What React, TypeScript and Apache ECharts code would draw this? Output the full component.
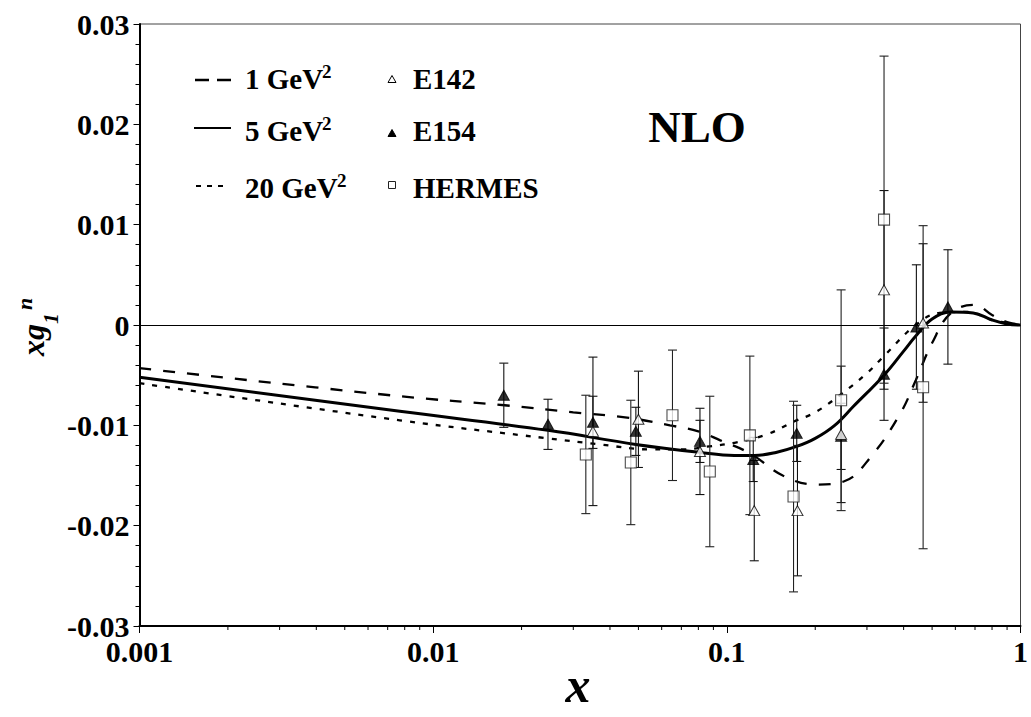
import React, { useEffect, useRef } from 'react';
import * as echarts from 'echarts';

// ---------- data ----------
// Theory curves (x, xg1n)
const q1X = [0.001, 0.0077, 0.0175, 0.03, 0.045, 0.064, 0.08, 0.095, 0.12, 0.155, 0.2, 0.25, 0.31, 0.39, 0.44, 0.5, 0.58, 0.7, 0.8, 0.9, 1.0];
const q1Y = [-0.0043, -0.0071, -0.008, -0.0087, -0.0092, -0.01, -0.0106, -0.0115, -0.0128, -0.015, -0.0159, -0.0156, -0.0131, -0.0088, -0.0055, -0.0018, 0.0012, 0.002, 0.001, 0.0003, 0.0];

const q5X = [0.001, 0.0077, 0.0246, 0.049, 0.081, 0.106, 0.124, 0.147, 0.173, 0.2, 0.233, 0.27, 0.343, 0.4, 0.44, 0.5, 0.58, 0.69, 0.8, 0.9, 1.0];
const q5Y = [-0.0052, -0.0086, -0.0105, -0.0119, -0.0127, -0.013, -0.013, -0.0127, -0.0121, -0.0113, -0.01, -0.0081, -0.005, -0.0026, -0.0011, 0.0006, 0.0013, 0.0012, 0.0005, 0.0001, 0.0];

const q20X = [0.001, 0.0077, 0.0246, 0.037, 0.055, 0.071, 0.087, 0.108, 0.137, 0.17, 0.2, 0.245, 0.3, 0.34, 0.44, 0.53, 0.66, 0.8, 1.0];
const q20Y = [-0.0058, -0.0095, -0.0113, -0.0119, -0.0124, -0.0124, -0.0121, -0.0117, -0.0109, -0.0096, -0.0087, -0.0069, -0.0048, -0.0032, 0.0, 0.0012, 0.0013, 0.0005, 0.0];

// Data sets
const e142X = [0.035, 0.05, 0.081, 0.124, 0.174, 0.245, 0.343, 0.466];
const e142Y = [-0.0106, -0.0094, -0.0126, -0.0185, -0.0185, -0.0109, 0.0035, 0.0002];
const e142Err = [0.0074, 0.0048, 0.0043, 0.005, 0.0065, 0.0068, 0.0099, 0.0079];

const e154X = [0.0174, 0.0246, 0.035, 0.049, 0.081, 0.123, 0.173, 0.245, 0.343, 0.442, 0.566];
const e154Y = [-0.007, -0.0099, -0.0097, -0.0106, -0.0116, -0.0134, -0.0108, -0.0111, -0.0049, -0.0002, 0.0018];
const e154Err = [0.0032, 0.0025, 0.0026, 0.0024, 0.0021, 0.0022, 0.0028, 0.0033, 0.0046, 0.0062, 0.0057];

const hermesX = [0.0331, 0.0471, 0.0653, 0.0875, 0.1198, 0.1687, 0.245, 0.343, 0.466];
const hermesY = [-0.0129, -0.0137, -0.009, -0.0146, -0.011, -0.0171, -0.0075, 0.0105, -0.0062];
const hermesErr = [0.0059, 0.0062, 0.0065, 0.0075, 0.0079, 0.0095, 0.011, 0.0163, 0.0161];

// Axis ticks / labels
const xTickLabels = ['0.001', '0.01', '0.1', '1'];
const xMinorTicks = [0.002, 0.003, 0.004, 0.005, 0.006, 0.007, 0.008, 0.009, 0.02, 0.03, 0.04, 0.05, 0.06, 0.07, 0.08, 0.09, 0.2, 0.3, 0.4, 0.5, 0.6, 0.7, 0.8, 0.9];
const legendCurves = ['1 GeV', '5 GeV', '20 GeV'];
const legendData = ['E142', 'E154', 'HERMES'];

const FONT = '"Liberation Serif", "Times New Roman", serif';

function zip(xs: number[], ys: number[]) {
  return xs.map((x, i) => [x, ys[i]]);
}

function errorBars(name: string, xs: number[], ys: number[], errs: number[], color: string) {
  return {
    type: 'custom',
    name,
    silent: true,
    z: 3,
    encode: { x: 0, y: [1, 2] },
    data: xs.map((x, i) => [x, ys[i] - errs[i], ys[i] + errs[i]]),
    renderItem: (params: any, api: any) => {
      const x = api.value(0);
      const lo = api.coord([x, api.value(1)]);
      const hi = api.coord([x, api.value(2)]);
      const hw = 4.5;
      const st = { stroke: color, lineWidth: 1.1 };
      return {
        type: 'group',
        children: [
          { type: 'line', shape: { x1: lo[0], y1: lo[1], x2: hi[0], y2: hi[1] }, style: st },
          { type: 'line', shape: { x1: lo[0] - hw, y1: lo[1], x2: lo[0] + hw, y2: lo[1] }, style: st },
          { type: 'line', shape: { x1: hi[0] - hw, y1: hi[1], x2: hi[0] + hw, y2: hi[1] }, style: st },
        ],
      };
    },
  };
}

export default function App() {
  const ref = useRef<HTMLDivElement>(null);

  useEffect(() => {
    if (!ref.current) return;
    const chart = echarts.init(ref.current, undefined, { renderer: 'svg' });

    const labelStyle = { fontFamily: FONT, fontWeight: 'bold', fontSize: 30, color: '#000' };

    const txt = (x: number, y: number, text: string, size: number, extra: any = {}) => ({
      type: 'text', x, y,
      style: { text, font: `bold ${size}px ${FONT}`, fill: '#000', textAlign: 'left', textVerticalAlign: 'middle', ...extra },
    });

    const option: any = {
      animation: false,
      backgroundColor: '#fff',
      grid: { left: 139.5, right: 9.5, top: 24, bottom: 91, show: true, borderColor: '#444', borderWidth: 1 },
      xAxis: {
        type: 'log',
        logBase: 10,
        min: 0.001,
        max: 1,
        axisLine: { show: true, onZero: false, lineStyle: { color: '#000', width: 2 } },
        axisTick: { show: true, length: 7, lineStyle: { color: '#000', width: 1 } },
        splitLine: { show: false },
        axisLabel: {
          ...labelStyle,
          margin: 10,
          formatter: (v: number) => xTickLabels[Math.round(Math.log10(v)) + 3],
        },
      },
      yAxis: {
        type: 'value',
        min: -0.03,
        max: 0.03,
        interval: 0.01,
        axisLine: { show: true, onZero: false, lineStyle: { color: '#000', width: 2 } },
        axisTick: { show: true, length: 6, lineStyle: { color: '#000', width: 1 } },
        minorTick: { show: true, splitNumber: 5, length: 4, lineStyle: { color: '#000', width: 1 } },
        splitLine: { show: false },
        minorSplitLine: { show: false },
        axisLabel: {
          ...labelStyle,
          margin: 10,
          formatter: (v: number) => (Math.abs(v) < 1e-9 ? '0' : v.toFixed(2)),
        },
      },
      series: [
        {
          type: 'line', name: '1 GeV2', data: zip(q1X, q1Y), smooth: 0.4, showSymbol: false, z: 2,
          lineStyle: { color: '#000', width: 2.3, type: [12, 12] },
          markLine: {
            silent: true, symbol: 'none', label: { show: false },
            lineStyle: { color: '#000', width: 1, type: 'solid' },
            data: [{ yAxis: 0 }],
          },
        },
        {
          type: 'line', name: '5 GeV2', data: zip(q5X, q5Y), smooth: 0.4, showSymbol: false, z: 2,
          lineStyle: { color: '#000', width: 3, type: 'solid' },
        },
        {
          type: 'line', name: '20 GeV2', data: zip(q20X, q20Y), smooth: 0.4, showSymbol: false, z: 2,
          lineStyle: { color: '#000', width: 2.3, type: [5, 8] },
        },
        errorBars('E154 err', e154X, e154Y, e154Err, '#111'),
        errorBars('E142 err', e142X, e142Y, e142Err, '#111'),
        errorBars('HERMES err', hermesX, hermesY, hermesErr, '#222'),
        {
          type: 'scatter', name: 'E154', data: zip(e154X, e154Y), symbol: 'triangle', symbolSize: [11, 10], z: 4,
          itemStyle: { color: '#000', borderColor: '#000', borderWidth: 1 },
        },
        {
          type: 'scatter', name: 'E142', data: zip(e142X, e142Y), symbol: 'triangle', symbolSize: [11, 10], z: 5,
          itemStyle: { color: '#fff', borderColor: '#000', borderWidth: 1 },
        },
        {
          type: 'scatter', name: 'HERMES', data: zip(hermesX, hermesY), symbol: 'rect', symbolSize: 11, z: 5,
          itemStyle: { color: '#fff', borderColor: '#222', borderWidth: 1.1 },
        },
        {
          type: 'custom', name: 'minor ticks', silent: true, z: 6,
          encode: { x: 0, y: 1 },
          data: xMinorTicks.map((v) => [v, -0.03]),
          renderItem: (params: any, api: any) => {
            const p = api.coord([api.value(0), api.value(1)]);
            return {
              type: 'line',
              shape: { x1: p[0], y1: p[1], x2: p[0], y2: p[1] + 4 },
              style: { stroke: '#000', lineWidth: 1 },
            };
          },
        },
      ],
      graphic: [
        // legend: curves
        { type: 'line', shape: { x1: 195, y1: 80, x2: 232, y2: 80 }, style: { stroke: '#000', lineWidth: 2.5, lineDash: [14, 8] } },
        { type: 'line', shape: { x1: 194, y1: 128, x2: 231, y2: 128 }, style: { stroke: '#000', lineWidth: 2.2 } },
        { type: 'line', shape: { x1: 196, y1: 186, x2: 228, y2: 186 }, style: { stroke: '#000', lineWidth: 2.2, lineDash: [5, 6] } },
        txt(245, 79, legendCurves[0], 29),
        txt(245, 131, legendCurves[1], 29),
        txt(245, 188, legendCurves[2], 29),
        txt(322, 71, '2', 19),
        txt(322, 123, '2', 19),
        txt(337, 180, '2', 19),
        // legend: data symbols
        { type: 'polygon', shape: { points: [[388, 82.5], [396, 82.5], [392, 75.5]] }, style: { fill: '#fff', stroke: '#000', lineWidth: 1 } },
        { type: 'polygon', shape: { points: [[388, 136.5], [396, 136.5], [392, 129.5]] }, style: { fill: '#000', stroke: '#000', lineWidth: 1 } },
        { type: 'rect', shape: { x: 388.5, y: 181.5, width: 7, height: 7 }, style: { fill: '#fff', stroke: '#222', lineWidth: 1 } },
        txt(413, 79, legendData[0], 29),
        txt(413, 131, legendData[1], 29),
        txt(413, 188, legendData[2], 29),
        // NLO
        { type: 'text', x: 697, y: 127, style: { text: 'NLO', font: `bold 45px ${FONT}`, fill: '#000', textAlign: 'center', textVerticalAlign: 'middle' } },
        // x axis name
        { type: 'text', x: 578, y: 685, style: { text: 'x', font: `italic bold 50px ${FONT}`, fill: '#000', textAlign: 'center', textVerticalAlign: 'middle' } },
        // y axis name
        {
          type: 'group', x: 33, y: 356, rotation: Math.PI / 2,
          children: [
            { type: 'text', x: 0, y: 0, style: { text: 'xg', font: `italic bold 32px ${FONT}`, fill: '#000', textAlign: 'left', textVerticalAlign: 'middle' } },
            { type: 'text', x: 32, y: 17, style: { text: '1', font: `italic bold 22px ${FONT}`, fill: '#000', textAlign: 'left', textVerticalAlign: 'middle' } },
            { type: 'text', x: 46, y: -9, style: { text: 'n', font: `italic bold 22px ${FONT}`, fill: '#000', textAlign: 'left', textVerticalAlign: 'middle' } },
          ],
        },
      ],
    };

    chart.setOption(option);
    return () => chart.dispose();
  }, []);

  return <div ref={ref} style={{ position: 'fixed', left: 0, top: 0, width: 1031, height: 717 }} />;
}
